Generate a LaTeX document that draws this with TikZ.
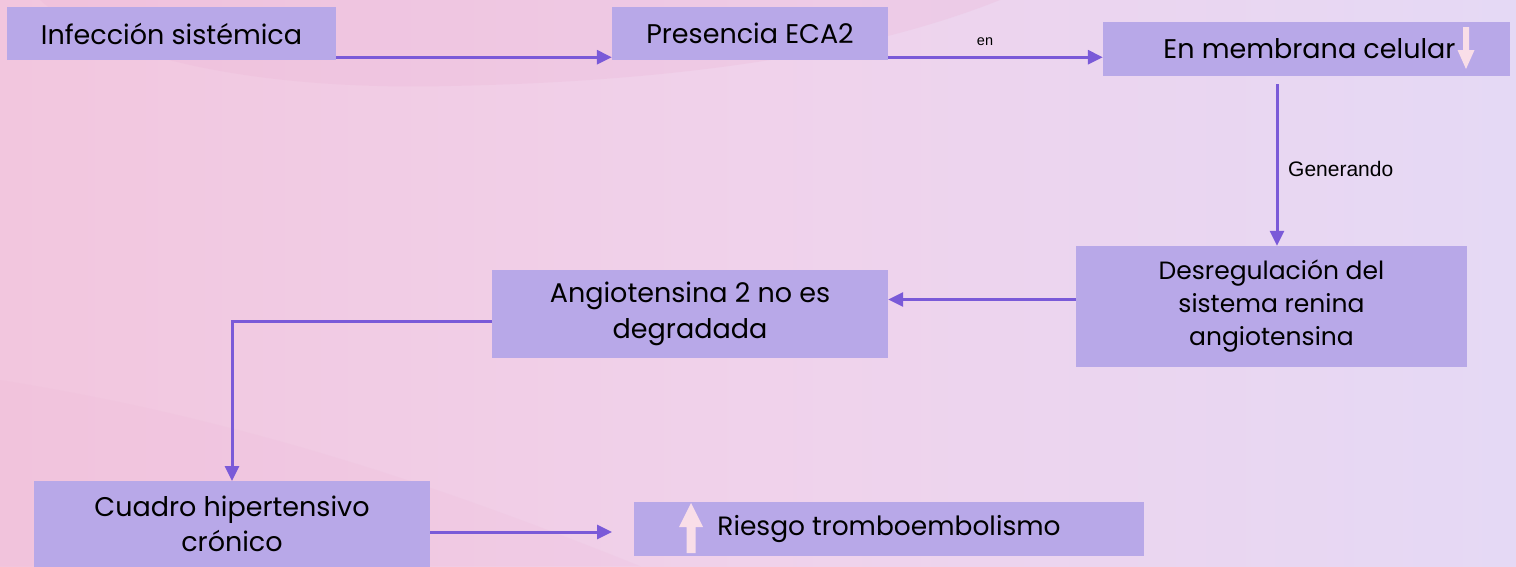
\documentclass[tikz,border=0pt]{standalone}
\usepackage{fontspec}
\setmainfont{Poppins}
\newfontfamily\labfont{Liberation Sans}
\usetikzlibrary{arrows.meta,calc}
\definecolor{boxfill}{RGB}{184,168,232}
\definecolor{arrcol}{RGB}{122,90,216}
\definecolor{bgpink}{RGB}{242,198,222}
\definecolor{bgmid}{RGB}{240,210,235}
\definecolor{bglav}{RGB}{229,217,245}
\definecolor{washpink}{RGB}{236,180,214}
\definecolor{symcol}{RGB}{249,222,232}
\tikzset{
  box/.style={fill=boxfill, draw=none, inner sep=0pt, align=center,
    font=\fontsize{27}{35}\selectfont, text=black},
  arr/.style={draw=arrcol, line width=3pt, -{Triangle[length=15pt,width=14pt]}},
  lab/.style={font=\labfont\fontsize{14}{16}\selectfont, text=black, inner sep=0pt},
}
\begin{document}
\begin{tikzpicture}[x=1pt,y=-1pt]
\useasboundingbox (0,0) rectangle (1516,566);
% background
\shade[left color=bgpink, right color=bglav, middle color=bgmid, shading angle=90] (0,0) rectangle (1516,566);
\fill[washpink, opacity=0.25] (40,0) .. controls (120,70) and (300,90) .. (450,86) .. controls (650,82) and (850,60) .. (1000,0) -- cycle;
\fill[washpink, opacity=0.15] (0,380) .. controls (250,420) and (450,490) .. (640,566) -- (0,566) -- cycle;
% nodes
\node[box, minimum width=329pt, minimum height=53pt] (b1) at (171.5,33.5) {Infección sistémica};
\node[box, minimum width=276pt, minimum height=53pt] (b2) at (750,33.5) {Presencia ECA2};
\node[box, minimum width=407pt, minimum height=54pt] (b3) at (1306.5,49) {\hspace*{6pt}En membrana celular};
\node[box, minimum width=391pt, minimum height=121pt, font=\fontsize{25}{33}\selectfont] (b4) at (1271.5,306.5) {Desregulación del\\sistema renina\\angiotensina};
\node[box, minimum width=396pt, minimum height=88pt, font=\fontsize{27}{36}\selectfont] (b5) at (690,314) {Angiotensina 2 no es\\degradada};
\node[box, minimum width=396pt, minimum height=86pt, anchor=north] (b6) at (232,481) {Cuadro hipertensivo\\crónico};
\node[box, minimum width=510pt, minimum height=54pt, font=\fontsize{26.5}{35}\selectfont] (b7) at (889,529) {Riesgo tromboembolismo};
% symbol arrows
\fill[symcol] (1463,27) rectangle (1469,50) -- (1474.5,50) -- (1466,69) -- (1457.5,50) -- (1463,50) -- cycle;
\fill[symcol] (686.5,553) -- (686.5,527) -- (679,527) -- (691,503) -- (703,527) -- (695.5,527) -- (695.5,553) -- cycle;
% connectors
\coordinate (c34) at (1277,84);
\coordinate (c67) at (612,532);
\draw[arr] ([yshift=3pt]b1.south east) -- ([yshift=3pt]b1.south east -| b2.west);
\draw[arr] ([yshift=3pt]b2.south east) -- ([yshift=3pt]b2.south east -| b3.west);
\draw[arr] (c34) -- (c34 |- b4.north);
\draw[arr] (b4.west |- 0,299.5) -- (b5.east |- 0,299.5);
\draw[arr] (b5.west |- 0,321) -| (b6.north);
\draw[arr] (b6.east |- c67) -- (c67);
% labels
\node[lab, font=\labfont\fontsize{14.5}{16}\selectfont] (len) at (985,42) {en};
\node[lab, anchor=west, font=\labfont\fontsize{21}{23}\selectfont] (lgen) at (1288,169) {Generando};
\end{tikzpicture}
\end{document}
